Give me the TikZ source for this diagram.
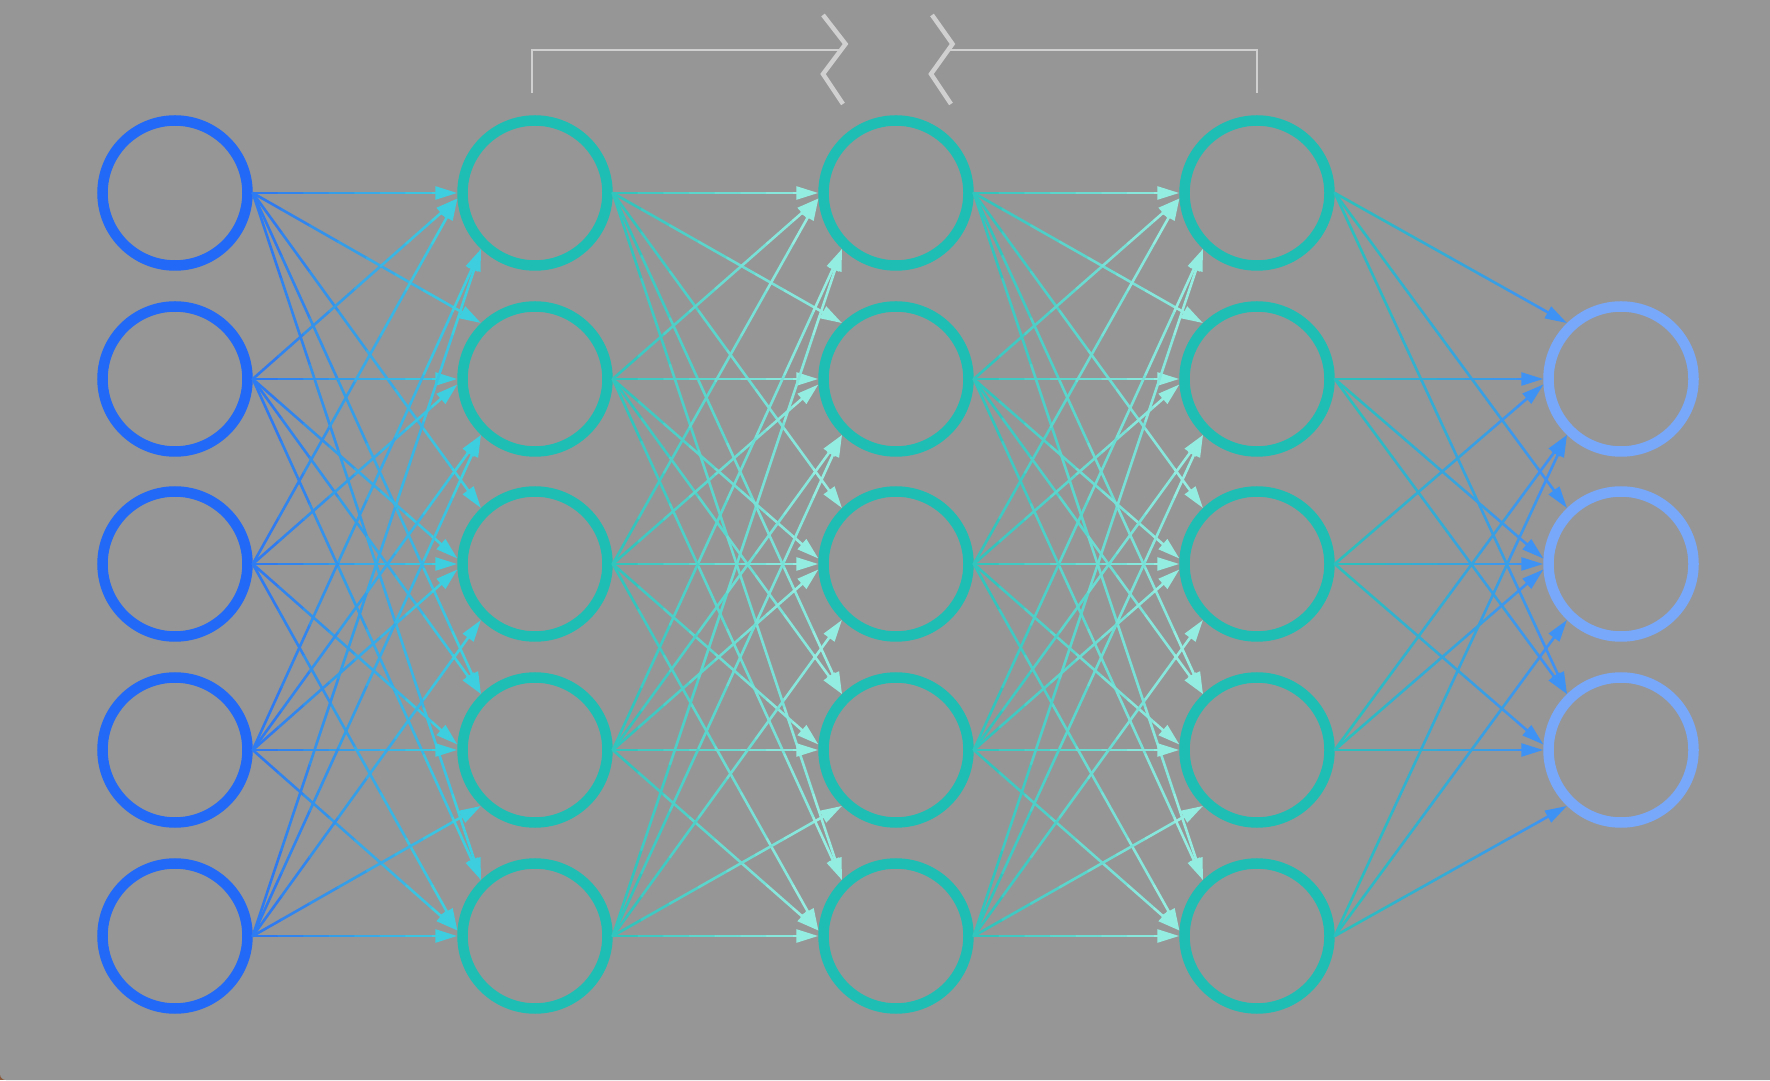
\documentclass[tikz,border=0pt]{standalone}
\usetikzlibrary{arrows.meta,calc}
\definecolor{bg}{HTML}{969696}
\definecolor{cornerc}{HTML}{8A5A3A}
\definecolor{inC}{HTML}{2169F6}
\definecolor{hidC}{HTML}{1EBEB4}
\definecolor{outC}{HTML}{78A8FA}
\definecolor{brk}{HTML}{D0D0D0}
\definecolor{eA}{HTML}{2D74F2}
\definecolor{eB}{HTML}{3ED5DE}
\definecolor{eC}{HTML}{2AC2BC}
\definecolor{eD}{HTML}{9CF0E4}
\definecolor{eF}{HTML}{3F8EF8}
\tikzset{
  neuron/.style={circle, draw, line width=10.5pt, minimum size=145pt, inner sep=0pt},
  inneuron/.style={neuron, draw=inC},
  hidneuron/.style={neuron, draw=hidC},
  outneuron/.style={neuron, draw=outC},
  edgeseg/.style={line width=2.6pt, line cap=round},
  tipend/.style={-{Triangle[length=22pt,width=13pt]}},
  bracketline/.style={draw=brk, line width=2.6pt},
  zigline/.style={draw=brk, line width=4.5pt, line join=miter},
}
\newcommand\gradedge[4]{%
  \foreach \i in {0,...,7}{%
    \pgfmathsetmacro\ta{\i/8}%
    \pgfmathsetmacro\tb{(\i+1)/8}%
    \pgfmathtruncatemacro\pc{100*(\i+0.5)/8}%
    \ifnum\i<7
      \draw[edgeseg, draw=#4!\pc!#3] ($(#1)!\ta!(#2)$) -- ($(#1)!\tb!(#2)$);
    \else
      \draw[line width=2.6pt, tipend, draw=#4!\pc!#3] ($(#1)!\ta!(#2)$) -- (#2);
    \fi
  }%
}
\begin{document}
\begin{tikzpicture}[x=1pt,y=1pt]
\useasboundingbox (0,0) rectangle (1770,1080);
\fill[cornerc] (0,0) rectangle (12,12);
\fill[bg] (0,1080) -- (1770,1080) -- (1770,0) -- (6,0) arc[start angle=270,end angle=180,radius=6] -- cycle;

% neurons
\foreach \r/\y in {1/887,2/701,3/516,4/330,5/144}{
  \node[inneuron] (L1-\r) at (175,\y) {};
  \node[hidneuron] (L2-\r) at (535,\y) {};
  \node[hidneuron] (L3-\r) at (896,\y) {};
  \node[hidneuron] (L4-\r) at (1257,\y) {};
}
\foreach \r/\y in {2/701,3/516,4/330}{
  \node[outneuron] (L5-\r) at (1621,\y) {};
}

% connections between the first four layers
\foreach \l/\m/\ca/\cb in {1/2/eA/eB, 2/3/eC/eD, 3/4/eC/eD}{
  \foreach \s in {1,...,5}{
    \foreach \t in {1,...,5}{
      \pgfmathtruncatemacro\ang{ifthenelse(\s==\t,180,ifthenelse(\s<\t,ifthenelse(or(\s==1,and(\s==2,\t>3)),134,176),ifthenelse(or(\s==5,and(\s==4,\t<3)),226,184)))}
      \gradedge{L\l-\s.east}{L\m-\t.\ang}{\ca}{\cb}
    }
  }
}
% connections to the output layer
\foreach \s in {1,...,5}{
  \foreach \t in {2,3,4}{
    \pgfmathtruncatemacro\ang{ifthenelse(\s==\t,180,ifthenelse(\s<\t,ifthenelse(or(\s==1,and(\s==2,\t>3)),134,176),ifthenelse(or(\s==5,and(\s==4,\t<3)),226,184)))}
    \gradedge{L4-\s.east}{L5-\t.\ang}{eC}{eF}
  }
}

% bracket with break
\coordinate (bl0) at (532,987);
\coordinate (bl1) at (532,1030);
\coordinate (bl2) at (841,1030);
\coordinate (br0) at (1257,987);
\coordinate (br1) at (1257,1030);
\coordinate (br2) at (948,1030);
\draw[bracketline] (bl0) -- (bl1) -- (bl2);
\draw[bracketline] (br0) -- (br1) -- (br2);
\draw[zigline] (823,1065) -- (845.5,1036) -- (823,1006) -- (843,976);
\draw[zigline] (932,1065) -- (952.5,1036) -- (931,1006) -- (951,976);
\end{tikzpicture}
\end{document}
